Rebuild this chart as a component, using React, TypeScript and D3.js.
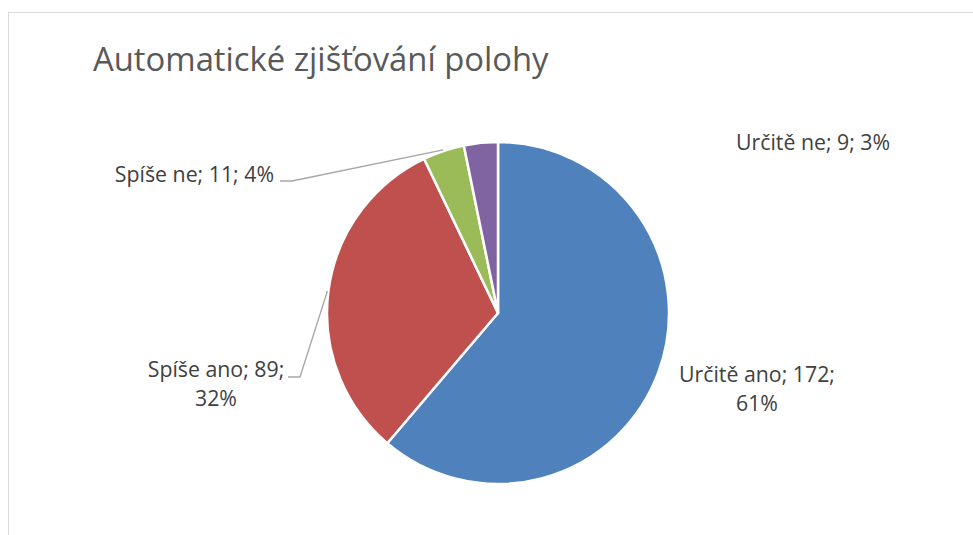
import React from "react";
import * as d3 from "d3";

// Survey answers for automatic location detection
const categories: string[] = ["Určitě ano", "Spíše ano", "Spíše ne", "Určitě ne"];
const counts: number[] = [172, 89, 11, 9];
const percents: string[] = ["61%", "32%", "4%", "3%"];
const colors: string[] = ["#4F81BD", "#C0504D", "#9BBB59", "#8064A2"];
const title = "Automatické zjišťování polohy";

// Label placement per slice: text lines, anchor and optional leader line start
type LabelLayout = {
  x: number;
  y: number;
  anchor: "start" | "middle" | "end";
  lines: number; // 1 or 2 lines
  leader?: [number, number]; // start point of leader (elbow begins here)
};
const labelLayout: LabelLayout[] = [
  { x: 757, y: 382, anchor: "middle", lines: 2 },
  { x: 216, y: 377, anchor: "middle", lines: 2, leader: [288, 377] },
  { x: 274, y: 182, anchor: "end", lines: 1, leader: [280, 181] },
  { x: 736, y: 150, anchor: "start", lines: 1 },
];

const W = 973;
const H = 535;
const cx = 498;
const cy = 313;
const R = 171;
const FONT = "'Open Sans', 'DejaVu Sans', sans-serif";

export default function App() {
  const pie = d3
    .pie<number>()
    .sort(null)
    .value((d) => d);
  const arcs = pie(counts);
  const arc = d3.arc<d3.PieArcDatum<number>>().innerRadius(0).outerRadius(R);

  return (
    <svg
      width={W}
      height={H}
      style={{ position: "absolute", left: 0, top: 0, background: "#fff" }}
    >
      <rect x={8.5} y={12.5} width={1000} height={600} fill="#fff" stroke="#D9D9D9" />
      <text
        x={93}
        y={71}
        fontFamily={FONT}
        fontWeight={400}
        fontSize={32.8}
        fill="#595959"
      >
        {title}
      </text>
      <g transform={`translate(${cx},${cy})`}>
        {arcs.map((a, i) => (
          <path
            key={categories[i]}
            d={arc(a) || ""}
            fill={colors[i]}
            stroke="#fff"
            strokeWidth={2.5}
            strokeLinejoin="round"
          />
        ))}
      </g>
      {arcs.map((a, i) => {
        const L = labelLayout[i];
        const mid = (a.startAngle + a.endAngle) / 2;
        const ex = cx + Math.sin(mid) * (R + 1);
        const ey = cy - Math.cos(mid) * (R + 1);
        const first = `${categories[i]}; ${counts[i]};`;
        return (
          <g key={"lbl" + i}>
            {L.leader && (
              <polyline
                points={`${L.leader[0]},${L.leader[1]} ${L.leader[0] + 12},${L.leader[1]} ${ex},${ey}`}
                fill="none"
                stroke="#A6A6A6"
                strokeWidth={1.3}
              />
            )}
            <text
              x={L.x}
              y={L.y}
              textAnchor={L.anchor}
              fontFamily={FONT}
              fontSize={21.3}
              fill="#404040"
            >
              {L.lines === 2 ? (
                <>
                  <tspan x={L.x}>{first}</tspan>
                  <tspan x={L.x} dy={29}>
                    {percents[i]}
                  </tspan>
                </>
              ) : (
                `${first} ${percents[i]}`
              )}
            </text>
          </g>
        );
      })}
    </svg>
  );
}
